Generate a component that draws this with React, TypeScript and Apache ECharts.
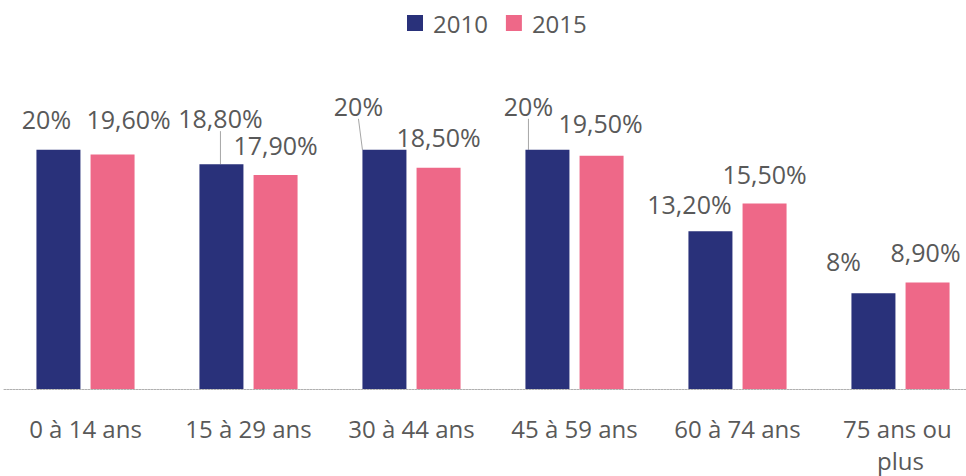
import React, { useEffect, useRef } from "react";
import * as echarts from "echarts";

const categories = ["0 à 14 ans", "15 à 29 ans", "30 à 44 ans", "45 à 59 ans", "60 à 74 ans", "75 ans ou plus"];
const values2010 = [20, 18.8, 20, 20, 13.2, 8];
const values2015 = [19.6, 17.9, 18.5, 19.5, 15.5, 8.9];

// label placement (layout, not data)
const labelDx2010 = [-12, -1, -26, -19, -21, -30];
const labelDy2010 = [-18, -33, -31, -31, -14, -19];
const labelDx2015 = [16, 0, 0, -1, 0, -2];
const labelDy2015 = [-23, -17, -18, -20, -17, -18];
const leader2010 = [false, true, true, true, false, false];

const fmt = (v: number) => (Number.isInteger(v) ? `${v}%` : v.toFixed(2).replace(".", ",") + "%");

const FONT = "'Open Sans', Lato, sans-serif";

export default function App() {
  const ref = useRef<HTMLDivElement>(null);
  useEffect(() => {
    if (!ref.current) return;
    const chart = echarts.init(ref.current, null, { renderer: "svg" });
    const labelCommon = {
      show: true,
      position: "top",
      distance: 0,
      fontSize: 25,
      lineHeight: 26,
      fontFamily: FONT,
      color: "#595959",
      formatter: (p: any) => fmt(p.value),
    };
    chart.setOption({
      animation: false,
      legend: {
        top: 6,
        left: 402,
        icon: "rect",
        itemWidth: 16,
        itemHeight: 16,
        itemGap: 18,
        textStyle: { fontSize: 24, fontFamily: FONT, color: "#595959", padding: [0, 0, 0, 5] },
        data: ["2010", "2015"],
      },
      grid: { left: 4, right: 8, top: 90, height: 301 },
      xAxis: {
        type: "category",
        data: categories,
        axisTick: { show: false },
        axisLine: { lineStyle: { color: "#b0b0b0", type: [2, 1], width: 1 } },
        axisLabel: {
          fontSize: 24,
          lineHeight: 32,
          margin: 23,
          fontFamily: FONT,
          color: "#595959",
          width: 145,
          overflow: "break",
          interval: 0,
        },
      },
      yAxis: { type: "value", min: 0, max: 25, show: false, splitLine: { show: false } },
      series: [
        {
          name: "2010",
          type: "bar",
          barWidth: 44,
          barGap: "23%",
          itemStyle: { color: "#29317A" },
          label: labelCommon,
          labelLine: { show: false, lineStyle: { color: "#a6a6a6", width: 1 } },
          labelLayout: (p: any) => ({ dx: labelDx2010[p.dataIndex], dy: labelDy2010[p.dataIndex] }),
          data: values2010.map((v, i) => ({
            value: v,
            labelLine: { show: leader2010[i], lineStyle: { color: "#a6a6a6", width: 1 } },
          })),
        },
        {
          name: "2015",
          type: "bar",
          barWidth: 44,
          itemStyle: { color: "#EE6888" },
          label: labelCommon,
          labelLayout: (p: any) => ({ dx: labelDx2015[p.dataIndex], dy: labelDy2015[p.dataIndex] }),
          data: values2015,
        },
      ],
    });
    return () => chart.dispose();
  }, []);
  return (
    <div style={{ position: "absolute", left: 0, top: 0, width: 966, height: 476, overflow: "hidden" }}>
      <div ref={ref} style={{ width: 990, height: 476 }} />
    </div>
  );
}
